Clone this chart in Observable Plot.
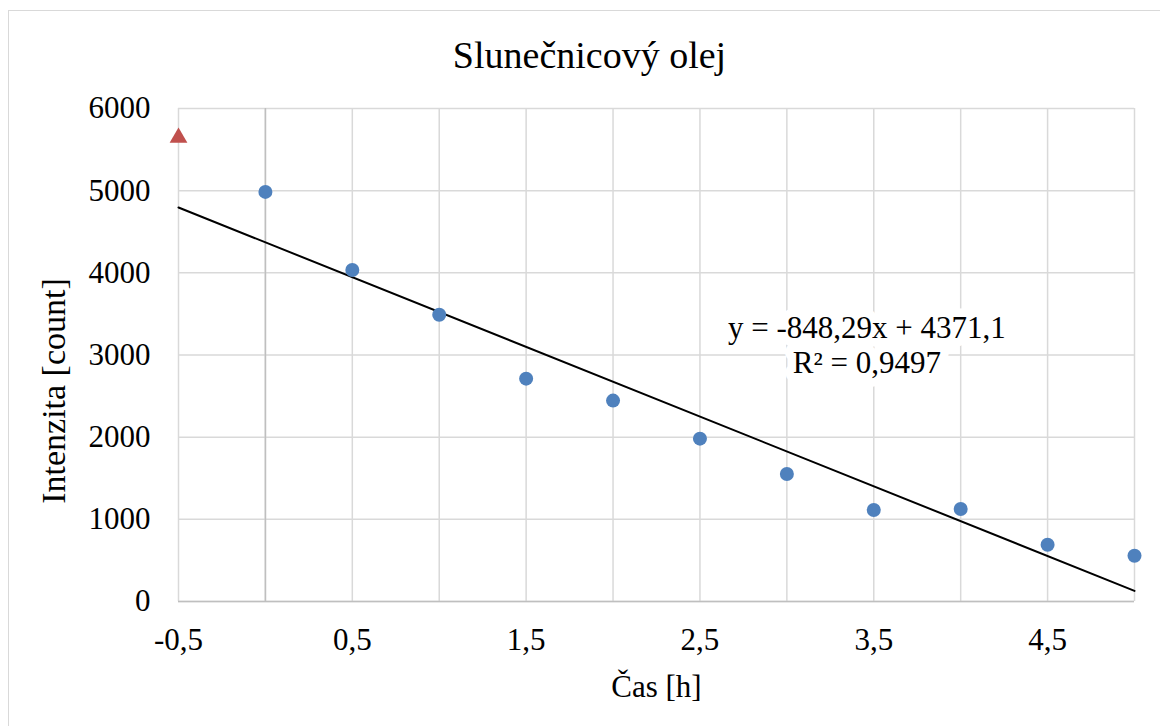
<!DOCTYPE html>
<html>
<head>
<meta charset="utf-8">
<script src="https://cdn.jsdelivr.net/npm/d3@7"></script>
<script src="https://cdn.jsdelivr.net/npm/@observablehq/plot@0.6"></script>
<style>
  html, body { margin: 0; padding: 0; background: #fff; }
  #wrap { position: relative; width: 1160px; height: 726px; overflow: hidden; }
  #border { position: absolute; left: 8px; top: 10px; width: 1170px; height: 730px;
            border: 1.5px solid #d9d9d9; box-sizing: border-box; pointer-events: none; }
  #chart { position: absolute; left: 0; top: 0; }
  #chart svg, #chart svg text { font-family: "Liberation Serif", "Times New Roman", serif; }
</style>
</head>
<body>
<div id="wrap"><div id="chart"></div><div id="border"></div></div>
<script>
// ---- data ----
const title = "Slunečnicový olej";
const xLabel = "Čas [h]";
const yLabel = "Intenzita [count]";
const times = [0, 0.5, 1, 1.5, 2, 2.5, 3, 3.5, 4, 4.5, 5];
const intensity = [4985, 4035, 3490, 2712, 2445, 1982, 1552, 1114, 1126, 691, 557];
const outlierTime = [-0.5];
const outlierIntensity = [5645];
const trendSlope = -848.29;
const trendIntercept = 4371.1;
const trendRange = [-0.5, 5];
const equationText = "y = -848,29x + 4371,1\nR² = 0,9497";
const xTickLabels = [-0.5, 0.5, 1.5, 2.5, 3.5, 4.5];
const xGridValues = [-0.5, 0, 0.5, 1, 1.5, 2, 2.5, 3, 3.5, 4, 4.5, 5];
const yTickValues = [0, 1000, 2000, 3000, 4000, 5000, 6000];

// ---- derived tables ----
const points = times.map((t, i) => ({t, v: intensity[i]}));
const outliers = outlierTime.map((t, i) => ({t, v: outlierIntensity[i]}));
const trend = trendRange.map(t => ({t, v: trendSlope * t + trendIntercept}));
const fmt = d => String(d).replace(".", ",");

const chart = Plot.plot({
  width: 1160,
  height: 726,
  marginLeft: 178,
  marginRight: 26,
  marginTop: 108,
  marginBottom: 125,
  style: {fontFamily: "'Liberation Serif', 'Times New Roman', serif", fontSize: "31px", color: "#000", background: "transparent"},
  x: {domain: [-0.5, 5]},
  y: {domain: [0, 6000]},
  marks: [
    Plot.ruleX(xGridValues, {stroke: "#d9d9d9", strokeWidth: 1.5, strokeOpacity: 1}),
    Plot.ruleY(yTickValues, {stroke: "#d9d9d9", strokeWidth: 1.5, strokeOpacity: 1}),
    Plot.ruleX([0], {stroke: "#bfbfbf", strokeWidth: 1.5}),
    Plot.ruleY([0], {stroke: "#bfbfbf", strokeWidth: 1.5}),
    Plot.axisX({ticks: xTickLabels, tickFormat: fmt, tickSize: 0, tickPadding: 26, label: null, fontSize: 31}),
    Plot.axisY({ticks: yTickValues, tickFormat: d => String(d), tickSize: 0, tickPadding: 28, label: null, fontSize: 31}),
    Plot.text([equationText], {x: 3.46, y: 3135, text: d => d, fill: "#000", stroke: "white", strokeWidth: 17, lineHeight: 1.13, textAnchor: "middle", lineAnchor: "middle", fontSize: 31}),
    Plot.line(trend, {x: "t", y: "v", stroke: "#000", strokeWidth: 2}),
    Plot.dot(points, {x: "t", y: "v", r: 7, fill: "#4f81bd", stroke: "none"}),
    Plot.dot(outliers, {x: "t", y: "v", symbol: "triangle", r: 6.6, fill: "#c0504d", stroke: "none"}),
    Plot.text([title], {frameAnchor: "top", dx: -67, dy: -53, text: d => d, fontSize: 38, fill: "#000", textAnchor: "middle", lineAnchor: "middle"}),
    Plot.text([xLabel], {frameAnchor: "bottom", dy: 86, text: d => d, fontSize: 31, fill: "#000", textAnchor: "middle", lineAnchor: "middle"}),
    Plot.text([yLabel], {frameAnchor: "left", dx: -124, dy: 36, rotate: -90, text: d => d, fontSize: 34, fill: "#000", textAnchor: "middle", lineAnchor: "middle"})
  ]
});
document.getElementById("chart").appendChild(chart);
</script>
</body>
</html>
